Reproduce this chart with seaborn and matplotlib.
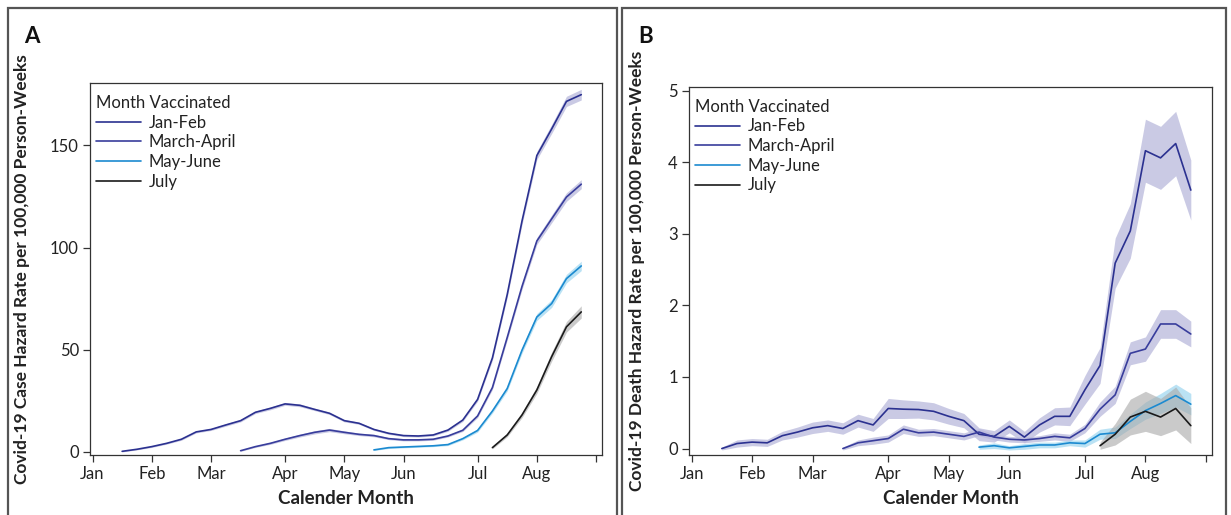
import matplotlib
matplotlib.use("Agg")
import matplotlib.pyplot as plt
from matplotlib.patches import Rectangle
import numpy as np
import pandas as pd
import seaborn as sns

# ---------------- data ----------------
groups = ["Jan-Feb", "March-April", "May-June", "July"]
start_week = {"Jan-Feb": 2, "March-April": 10, "May-June": 19, "July": 27}
month_ticks = [0, 4, 8, 13, 17, 21, 26, 30, 34]
month_labels = ["Jan", "Feb", "Mar", "Apr", "May", "Jun", "Jul", "Aug", ""]

# Panel A: case hazard rate (estimate and CI half-width)
caseA_janfeb = [0.3, 1.3, 2.6, 4.2, 6.2, 9.8, 11.0, 13.2, 15.3, 19.4, 21.3, 23.5, 22.8, 20.8,
                18.9, 15.3, 14.0, 11.0, 9.1, 8.0, 7.8, 8.3, 10.7, 15.6, 25.7, 46.0, 77.0, 113.0,
                145.0, 158.0, 171.5, 174.8]
caseA_janfeb_hw = [0.3, 0.3, 0.4, 0.4, 0.5, 0.5, 0.5, 0.6, 0.6, 0.6, 0.7, 0.7, 0.7, 0.6, 0.6,
                   0.6, 0.5, 0.5, 0.5, 0.5, 0.5, 0.5, 0.6, 0.7, 0.9, 1.2, 1.5, 1.8, 2.0, 2.2, 2.5, 2.6]
caseA_marapr = [0.6, 2.6, 4.2, 6.2, 8.0, 9.6, 10.7, 9.6, 8.6, 8.0, 6.5, 5.9, 5.9, 6.2, 7.8, 10.6,
                17.6, 31.5, 56.0, 81.0, 103.2, 114.0, 124.7, 131.0]
caseA_marapr_hw = [0.3, 0.4, 0.5, 0.6, 0.7, 0.8, 0.8, 0.7, 0.6, 0.6, 0.5, 0.5, 0.5, 0.5, 0.5, 0.6,
                   0.8, 1.0, 1.3, 1.5, 1.7, 1.9, 2.1, 2.2]
caseA_mayjun = [1.0, 2.1, 2.4, 2.7, 3.0, 3.6, 6.5, 10.5, 20.0, 31.0, 49.8, 66.0, 72.6, 84.8, 91.0]
caseA_mayjun_hw = [0.3, 0.4, 0.4, 0.4, 0.4, 0.5, 0.6, 0.8, 1.0, 1.2, 1.5, 1.7, 1.9, 2.1, 2.3]
caseA_july = [2.1, 8.3, 18.1, 30.3, 46.6, 61.2, 68.5]
caseA_july_hw = [0.6, 0.9, 1.3, 1.7, 2.2, 2.6, 3.0]

# Panel B: death hazard rate (estimate and CI half-width)
deathB_janfeb = [0.0, 0.07, 0.09, 0.08, 0.18, 0.23, 0.29, 0.32, 0.28, 0.39, 0.33, 0.56, 0.55,
                 0.545, 0.52, 0.45, 0.39, 0.20, 0.17, 0.31, 0.16, 0.33, 0.45, 0.45, 0.82, 1.16,
                 2.59, 3.04, 4.16, 4.06, 4.26, 3.61]
deathB_janfeb_hw = [0.02, 0.05, 0.05, 0.05, 0.06, 0.07, 0.08, 0.08, 0.08, 0.09, 0.09, 0.14, 0.13,
                    0.12, 0.12, 0.11, 0.10, 0.09, 0.08, 0.09, 0.08, 0.10, 0.12, 0.13, 0.20, 0.25,
                    0.35, 0.38, 0.44, 0.44, 0.45, 0.42]
deathB_marapr = [0.0, 0.08, 0.11, 0.14, 0.27, 0.22, 0.23, 0.20, 0.17, 0.23, 0.16, 0.13, 0.12, 0.14,
                 0.17, 0.15, 0.28, 0.55, 0.75, 1.33, 1.39, 1.74, 1.74, 1.60]
deathB_marapr_hw = [0.02, 0.04, 0.05, 0.05, 0.06, 0.05, 0.05, 0.05, 0.05, 0.05, 0.04, 0.04, 0.04,
                    0.04, 0.05, 0.05, 0.06, 0.10, 0.12, 0.16, 0.17, 0.20, 0.20, 0.18]
deathB_mayjun = [0.02, 0.04, 0.01, 0.03, 0.05, 0.05, 0.08, 0.07, 0.20, 0.22, 0.38, 0.53, 0.63, 0.74, 0.62]
deathB_mayjun_hw = [0.03, 0.04, 0.03, 0.04, 0.04, 0.04, 0.04, 0.05, 0.07, 0.08, 0.10, 0.12, 0.14, 0.16, 0.15]
deathB_july = [0.04, 0.20, 0.44, 0.52, 0.44, 0.56, 0.32]
deathB_july_hw = [0.05, 0.15, 0.25, 0.28, 0.26, 0.30, 0.25]

line_colors = {"Jan-Feb": "#2b3190", "March-April": "#383d9c", "May-June": "#1b8ad0", "July": "#1a1a1a"}
band_colors = {"Jan-Feb": "#b9b9dc", "March-April": "#b9b9dc", "May-June": "#9dd6f0", "July": "#a8a8a8"}
band_alpha = {"Jan-Feb": 0.75, "March-April": 0.75, "May-June": 0.7, "July": 0.6}


def build(series):
    rows = []
    for g in groups:
        vals, hws = series[g]
        for i, (v, h) in enumerate(zip(vals, hws)):
            rows.append({"week": start_week[g] + i, "rate": v, "lo": v - h, "hi": v + h, "group": g})
    return pd.DataFrame(rows)


dfA = build({"Jan-Feb": (caseA_janfeb, caseA_janfeb_hw), "March-April": (caseA_marapr, caseA_marapr_hw),
             "May-June": (caseA_mayjun, caseA_mayjun_hw), "July": (caseA_july, caseA_july_hw)})
dfB = build({"Jan-Feb": (deathB_janfeb, deathB_janfeb_hw), "March-April": (deathB_marapr, deathB_marapr_hw),
             "May-June": (deathB_mayjun, deathB_mayjun_hw), "July": (deathB_july, deathB_july_hw)})

# ---------------- style ----------------
sns.set_theme(style="white")
plt.rcParams["font.family"] = ["Lato", "DejaVu Sans"]
plt.rcParams["axes.edgecolor"] = "#333333"
plt.rcParams["axes.linewidth"] = 0.9

W, H = 1231, 515
fig = plt.figure(figsize=(W / 100, H / 100), dpi=100)
fig.patch.set_facecolor("white")


def fx(px):
    return px / W


def fy(py):
    return 1 - py / H


axA = fig.add_axes([fx(90), fy(455), fx(602) - fx(90), fy(83) - fy(455)])
axB = fig.add_axes([fx(689), fy(455), fx(1212) - fx(689), fy(87) - fy(455)])


def draw(ax, df, ylim, yticks, ylabel, ylab_x):
    for g in groups:
        d = df[df.group == g]
        ax.fill_between(d.week, d.lo, d.hi, color=band_colors[g], alpha=band_alpha[g], lw=0)
    sns.lineplot(data=df, x="week", y="rate", hue="group", hue_order=groups, palette=line_colors,
                 errorbar=None, lw=1.2, ax=ax, legend=True)
    ax.set_xlim(-0.17, 34.4)
    ax.set_ylim(*ylim)
    ax.set_xticks(month_ticks)
    ax.set_xticklabels(month_labels)
    ax.set_yticks(yticks)
    ax.tick_params(axis="both", which="major", direction="out", length=5, width=0.9,
                   color="#333333", labelsize=12, pad=3, bottom=True, left=True, labelcolor="#222222")
    ax.set_xlabel("Calender Month", fontsize=13.5, fontweight="bold", color="#222222")
    ax.xaxis.set_label_coords(0.5, -0.095)
    ax.set_ylabel(ylabel, fontsize=12.5, fontweight="bold", color="#222222")
    ax.yaxis.set_label_coords(ylab_x, 0.5)
    handles, labels = ax.get_legend_handles_labels()
    leg = ax.legend(handles, labels, title="Month Vaccinated", loc="upper left",
                    bbox_to_anchor=(0.012, 0.968), frameon=False, fontsize=12, title_fontsize=12,
                    handlelength=2.7, handletextpad=0.45, labelspacing=0.22, borderpad=0,
                    borderaxespad=0, alignment="left")
    for t in leg.get_texts():
        t.set_color("#222222")
    leg.get_title().set_color("#222222")


draw(axA, dfA, (-1.5, 180.5), [0, 50, 100, 150],
     "Covid-19 Case Hazard Rate per 100,000 Person-Weeks", -0.117)
draw(axB, dfB, (-0.09, 5.05), [0, 1, 2, 3, 4, 5],
     "Covid-19 Death Hazard Rate per 100,000 Person-Weeks", -0.084)

# panel frames
fig.add_artist(Rectangle((fx(8), -0.02), fx(617) - fx(8), fy(8) + 0.02, transform=fig.transFigure,
                         fill=False, ec="#555555", lw=1.6))
fig.add_artist(Rectangle((fx(622), -0.02), fx(1226) - fx(622), fy(8) + 0.02, transform=fig.transFigure,
                         fill=False, ec="#555555", lw=1.6))

fig.text(fx(24), fy(36), "A", fontsize=16, fontweight="bold", va="center", ha="left", color="#111111")
fig.text(fx(638), fy(36), "B", fontsize=16, fontweight="bold", va="center", ha="left", color="#111111")

fig.savefig("out.png", dpi=100, facecolor="white")
